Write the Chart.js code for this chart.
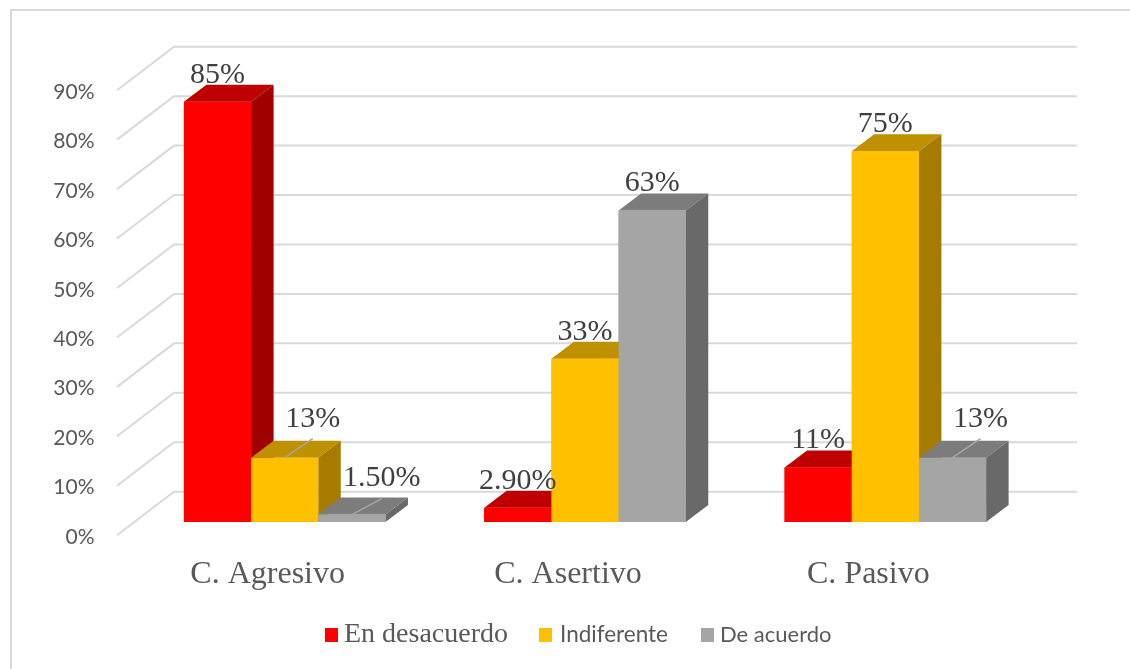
<!DOCTYPE html>
<html lang="es">
<head>
<meta charset="utf-8">
<title>Comportamiento</title>
<script src="https://cdn.jsdelivr.net/npm/chart.js@4"></script>
<style>
  html, body { margin: 0; background: #fff; }
  canvas { display: block; }
</style>
</head>
<body>
<canvas id="grafico" width="1130" height="669"></canvas>
<script>
const categorias = ["C. Agresivo", "C. Asertivo", "C. Pasivo"];
const enDesacuerdo = [85, 2.9, 11];
const indiferente = [13, 33, 75];
const deAcuerdo = [1.5, 63, 13];
const textosEnDesacuerdo = ["85%", "2.90%", "11%"];
const textosIndiferente = ["13%", "33%", "75%"];
const textosDeAcuerdo = ["1.50%", "63%", "13%"];
const ticksY = [0, 10, 20, 30, 40, 50, 60, 70, 80, 90];

const COLOR_TEXTO = "#595959";
const COLOR_ETIQUETA = "#404040";
const COLOR_LINEA = "#d9d9d9";
const SERIF = "'Liberation Serif'";
const SANS = "Lato";

// profundidad de las barras y del fondo (perspectiva 3D)
const BARRA_DX = 22.5;
const BARRA_DY = 17;
const FONDO_DY = 30.3;
const PARED_DX = 57;
const PARED_DY = 43.5;

const series = [
  { nombre: "En desacuerdo", valores: enDesacuerdo, textos: textosEnDesacuerdo, frente: "#ff0000", arriba: "#bf0000", lado: "#a00000" },
  { nombre: "Indiferente", valores: indiferente, textos: textosIndiferente, frente: "#ffc000", arriba: "#bf9000", lado: "#a67c00" },
  { nombre: "De acuerdo", valores: deAcuerdo, textos: textosDeAcuerdo, frente: "#a5a5a5", arriba: "#7c7c7c", lado: "#696969" },
];

// etiquetas que Excel movio a mano: [serie, categoria, dx, dy]
const etiquetasMovidas = [
  [1, 0, 28, -12],
  [2, 0, 30, -9],
  [2, 2, 28, -12],
];

function poligono(ctx, color, puntos) {
  ctx.fillStyle = color;
  ctx.beginPath();
  puntos.forEach(([x, y], i) => (i ? ctx.lineTo(x, y) : ctx.moveTo(x, y)));
  ctx.closePath();
  ctx.fill();
}

const marco = {
  id: "marco",
  beforeDatasetsDraw(chart) {
    const { ctx, scales: { y }, chartArea } = chart;
    ctx.save();
    ctx.strokeStyle = COLOR_LINEA;
    ctx.lineWidth = 2;

    ctx.beginPath();
    ctx.moveTo(1130, 10);
    ctx.lineTo(11, 10);
    ctx.lineTo(11, 669);
    ctx.stroke();

    const izquierda = chartArea.left - 18 + 0.5;
    const derecha = 1077;
    ticksY.forEach((t) => {
      const yFondo = y.getPixelForValue(t) - FONDO_DY;
      ctx.beginPath();
      ctx.moveTo(izquierda, yFondo + PARED_DY);
      ctx.lineTo(izquierda + PARED_DX, yFondo);
      ctx.lineTo(derecha, yFondo);
      ctx.stroke();
    });
    ctx.restore();
  },
};

const barras3d = {
  id: "barras3d",
  afterDatasetsDraw(chart) {
    const { ctx } = chart;
    ctx.save();
    series.forEach((s, i) => {
      chart.getDatasetMeta(i).data.forEach((barra) => {
        const { x, y, base, width } = barra.getProps(["x", "y", "base", "width"], true);
        const x1 = x - width / 2;
        const x2 = x + width / 2;
        poligono(ctx, s.arriba, [[x1, y], [x1 + BARRA_DX, y - BARRA_DY], [x2 + BARRA_DX, y - BARRA_DY], [x2, y]]);
        poligono(ctx, s.lado, [[x2, y], [x2 + BARRA_DX, y - BARRA_DY], [x2 + BARRA_DX, base - BARRA_DY], [x2, base]]);
        barra.draw(ctx);
      });
    });

    ctx.font = `30px ${SERIF}`;
    ctx.textAlign = "center";
    ctx.textBaseline = "middle";
    series.forEach((s, i) => {
      chart.getDatasetMeta(i).data.forEach((barra, c) => {
        const { x, y } = barra.getProps(["x", "y"], true);
        const movida = etiquetasMovidas.find((m) => m[0] === i && m[1] === c);
        const dx = movida ? movida[2] : 0;
        const dy = movida ? movida[3] : 0;
        const tx = x + dx;
        const ty = y - 27 + dy;
        if (movida) {
          ctx.strokeStyle = "#a6a6a6";
          ctx.lineWidth = 1.5;
          ctx.beginPath();
          ctx.moveTo(x, y);
          ctx.lineTo(tx, ty + 20);
          ctx.stroke();
        }
        ctx.fillStyle = COLOR_ETIQUETA;
        ctx.fillText(s.textos[c], tx, ty);
      });
    });
    ctx.restore();
  },
};

// la leyenda original mezcla dos fuentes, la de Chart.js solo admite una
const leyenda = {
  id: "leyenda",
  afterDraw(chart) {
    const { ctx } = chart;
    const items = [
      { x: 325, texto: 344, fuente: `28px ${SERIF}` },
      { x: 539, texto: 560, fuente: `22.5px ${SANS}` },
      { x: 701, texto: 720, fuente: `22px ${SANS}` },
    ];
    ctx.save();
    ctx.textAlign = "left";
    ctx.textBaseline = "middle";
    items.forEach((item, i) => {
      ctx.fillStyle = series[i].frente;
      ctx.fillRect(item.x, 628, 13, 14);
      ctx.fillStyle = COLOR_TEXTO;
      ctx.font = item.fuente;
      ctx.fillText(series[i].nombre, item.texto, 635);
    });
    ctx.restore();
  },
};

new Chart(document.getElementById("grafico"), {
  type: "bar",
  data: {
    labels: categorias,
    datasets: series.map((s) => ({
      label: s.nombre,
      data: s.valores,
      backgroundColor: s.frente,
      borderWidth: 0,
      barPercentage: 1,
      categoryPercentage: 0.671,
    })),
  },
  options: {
    responsive: false,
    animation: false,
    layout: { padding: { top: 77, right: 94.5, left: 0, bottom: 0 } },
    plugins: {
      legend: { display: false },
      title: { display: false },
      tooltip: { enabled: false },
    },
    scales: {
      x: {
        grid: { display: false },
        border: { display: false },
        afterFit(escala) {
          escala.height = 147;
        },
        ticks: {
          color: COLOR_TEXTO,
          font: { family: SERIF, size: 32 },
          padding: 25,
          labelOffset: -17,
          autoSkip: false,
          maxRotation: 0,
        },
      },
      y: {
        min: 0,
        max: 90,
        grid: { display: false },
        border: { display: false },
        afterFit(escala) {
          escala.width = 134.5;
        },
        afterBuildTicks(escala) {
          escala.ticks = ticksY.map((value) => ({ value }));
        },
        ticks: {
          color: COLOR_TEXTO,
          font: { family: SANS, size: 21 },
          padding: 32,
          labelOffset: 15,
          callback: (v) => `${v}%`,
        },
      },
    },
  },
  plugins: [marco, barras3d, leyenda],
});
</script>
</body>
</html>
